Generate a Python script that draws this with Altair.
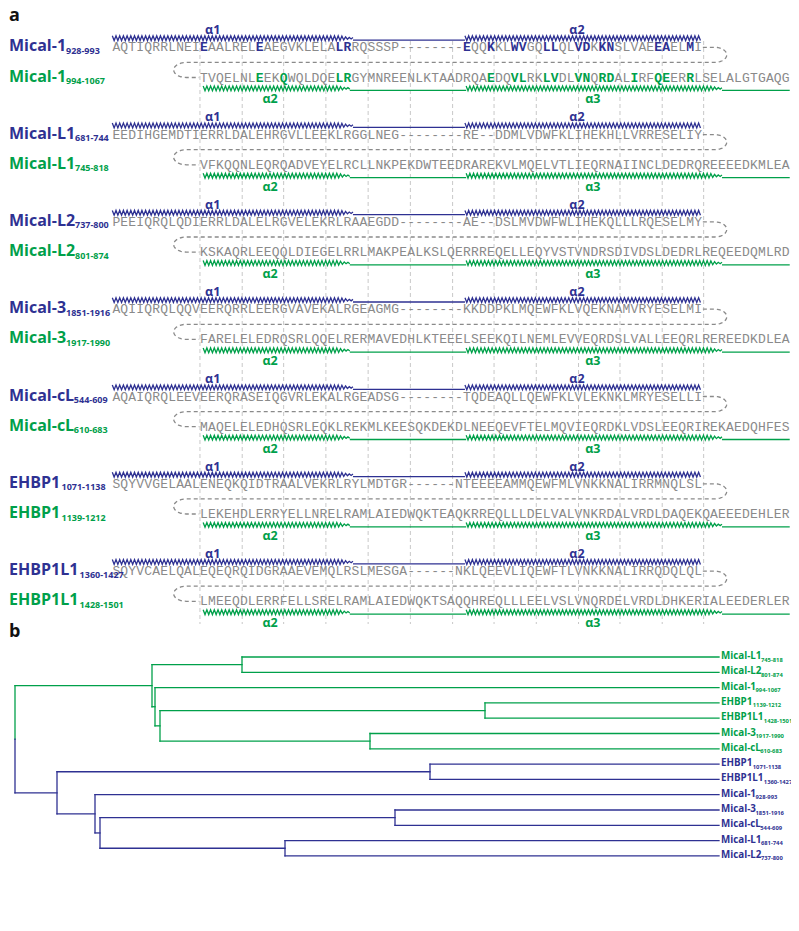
import altair as alt
import pandas as pd
import numpy as np

BLUE = "#2E3192"
GREEN = "#00A04A"
SEQ_GRAY = "#8a8a8a"
LOOP_GRAY = "#8a8a8a"
GUIDE_GRAY = "#c8c8c8"

# ---------------- data: panel a ----------------
pair_names = ["Mical-1", "Mical-L1", "Mical-L2", "Mical-3", "Mical-cL", "EHBP1", "EHBP1L1"]
top_ranges = ["928-993", "681-744", "737-800", "1851-1916", "544-609", "1071-1138", "1360-1427"]
bottom_ranges = ["994-1067", "745-818", "801-874", "1917-1990", "610-683", "1139-1212", "1428-1501"]
top_seqs = [
    "AQTIQRRLNEIEAALRELEAEGVKLELALRRQSSSP--------EQQKKLWVGQLLQLVDKKNSLVAEEAELMI",
    "EEDIHGEMDTIERRLDALEHRGVLLEEKLRGGLNEG--------RE--DDMLVDWFKLIHEKHLLVRRESELIY",
    "PEEIQRQLQDIERRLDALELRGVELEKRLRAAEGDD--------AE--DSLMVDWFWLIHEKQLLLRQESELMY",
    "AQIIQRQLQQVEERQRRLEERGVAVEKALRGEAGMG--------KKDDPKLMQEWFKLVQEKNAMVRYESELMI",
    "AQAIQRQLEEVEERQRASEIQGVRLEKALRGEADSG--------TQDEAQLLQEWFKLVLEKNKLMRYESELLI",
    "SQYVVGELAALENEQKQIDTRAALVEKRLRYLMDTGR------NTEEEEAMMQEWFMLVNKKNALIRRMNQLSL",
    "SQYVCAELQALEQEQRQIDGRAAEVEMQLRSLMESGA------NKLQEEVLIQEWFTLVNKKNALIRRQDQLQL",
]
bottom_seqs = [
    "TVQELNLEEKQWQLDQELRGYMNREENLKTAADRQAEDQVLRKLVDLVNQRDALIRFQEERRLSELALGTGAQG",
    "VFKQQNLEQRQADVEYELRCLLNKPEKDWTEEDRAREKVLMQELVTLIEQRNAIINCLDEDRQREEEEDKMLEA",
    "KSKAQRLEEQQLDIEGELRRLMAKPEALKSLQERRREQELLEQYVSTVNDRSDIVDSLDEDRLREQEEDQMLRD",
    "FARELELEDRQSRLQQELRERMAVEDHLKTEEELSEEKQILNEMLEVVEQRDSLVALLEEQRLREREEDKDLEA",
    "MAQELELEDHQSRLEQKLREKMLKEESQKDEKDLNEEQEVFTELMQVIEQRDKLVDSLEEQRIREKAEDQHFES",
    "LEKEHDLERRYELLNRELRAMLAIEDWQKTEAQKRREQLLLDELVALVNKRDALVRDLDAQEKQAEEEDEHLER",
    "LMEEQDLERRFELLSRELRAMLAIEDWQKTSAQQHREQLLLEELVSLVNQRDELVRDLDHKERIALEEDERLER",
]
BOTTOM_OFFSET = 11
# highlighted (bold) residue columns, Mical-1 pair only
top_bold = [[11, 18, 28, 29, 44, 47, 50, 51, 54, 55, 58, 59, 61, 62, 68, 69, 72], [], [], [], [], [], []]
bottom_bold = [[18, 21, 28, 29, 47, 50, 51, 54, 55, 58, 59, 61, 62, 65, 68, 69, 72], [], [], [], [], [], []]

guide_cols = [11.0, 16.3, 21.5, 26.8, 32.1, 37.4, 42.7, 47.9, 53.2, 58.5, 63.7, 69.0, 74.2]

top_segments = [("helix", 0.0, 30.2, True), ("coil", 30.2, 44.25, False), ("helix", 44.25, 73.8, False)]
top_labels = [("α1", 12.6), ("α2", 58.3)]
bottom_segments = [("helix", 11.4, 29.8, True), ("coil", 29.8, 44.4, False),
                   ("helix", 44.4, 76.5, True), ("coil", 76.5, 85.0, False)]
bottom_labels = [("α2", 19.8), ("α3", 60.3)]

# ---------------- data: panel b ----------------
leaf_names = ["Mical-L1", "Mical-L2", "Mical-1", "EHBP1", "EHBP1L1", "Mical-3", "Mical-cL",
              "EHBP1", "EHBP1L1", "Mical-1", "Mical-3", "Mical-cL", "Mical-L1", "Mical-L2"]
leaf_ranges = ["745-818", "801-874", "994-1067", "1139-1212", "1428-1501", "1917-1990", "610-683",
               "1071-1138", "1360-1427", "928-993", "1851-1916", "544-609", "681-744", "737-800"]
leaf_is_green = [True] * 7 + [False] * 7
LEAF_DEPTH = 7.04
# internal nodes: name, depth, children (leaf index or node name)
tree_nodes = [
    ("A", 2.27, [0, 1]),
    ("D", 4.70, [3, 4]),
    ("E", 3.55, [5, 6]),
    ("C", 1.45, ["D", "E"]),
    ("B", 1.40, [2, "C"]),
    ("G", 1.37, ["A", "B"]),
    ("F", 4.15, [7, 8]),
    ("J", 3.80, [10, 11]),
    ("K", 2.70, [12, 13]),
    ("I", 0.85, ["J", "K"]),
    ("H", 0.80, [9, "I"]),
    ("BL", 0.42, ["F", "H"]),
    ("R", 0.0, ["G", "BL"]),
]
green_nodes = {"A", "B", "C", "D", "E", "G"}

# ---------------- layout ----------------
W, H = 783, 915
COLS = alt.Scale(domain=[-13.087, 85.16], nice=False, zero=False)
PX = alt.Scale(domain=[8, 791], nice=False, zero=False)
YS = alt.Scale(domain=[8, 923], reverse=True, nice=False, zero=False)
DS = alt.Scale(domain=[-0.07, 7.76], nice=False, zero=False)

BLOCK_Y0 = 30
BLOCK_STEP = 87.3
R_HTOP = 8.2
R_STOP = 17.3
R_LOOP = 32.4
R_SBOT = 47.5
R_HBOT = 58.4
R_LBOT = 69.4

OPEN_BOLD = {'M': 0.91, 'i': 0.29, 'c': 0.50, 'a': 0.59, 'l': 0.29, '-': 0.32, '1': 0.57, '2': 0.57,
             '3': 0.57, 'L': 0.56, 'E': 0.57, 'H': 0.75, 'B': 0.67, 'P': 0.63}


def text_w(s, size):
    return sum(OPEN_BOLD.get(ch, 0.6) for ch in s) * size


# characters
rows = []
for b, (ts, bs) in enumerate(zip(top_seqs, bottom_seqs)):
    y0 = BLOCK_Y0 + BLOCK_STEP * b
    for i, ch in enumerate(ts):
        bold = i in top_bold[b]
        rows.append(dict(c=i + 0.5, y=y0 + R_STOP, ch=ch, bold=bold, color=BLUE if bold else SEQ_GRAY))
    for i, ch in enumerate(bs):
        col = BOTTOM_OFFSET + i
        bold = col in bottom_bold[b]
        rows.append(dict(c=col + 0.5, y=y0 + R_SBOT, ch=ch, bold=bold, color=GREEN if bold else SEQ_GRAY))
chars = pd.DataFrame(rows)

# helices
PERIOD = 0.464
AMP = 2.4
hrows = []
seg_id = 0


def add_segments(segs, yc, color):
    global seg_id
    for kind, c0, c1, taper in segs:
        seg_id += 1
        if kind == "helix":
            n = int(round((c1 - c0) / (PERIOD / 2)))
            for k in range(n + 1):
                c = c0 + k * (c1 - c0) / n
                a = AMP
                if taper and c > c1 - 1.6:
                    a = AMP * max(0.3, (c1 - c) / 1.6)
                s = -1 if k % 2 == 0 else 1
                hrows.append(dict(c=c, y=yc + s * a, seg=seg_id, k=k, color=color))
        else:
            for k, c in enumerate([c0, c1]):
                hrows.append(dict(c=c, y=yc + AMP * 0.8, seg=seg_id, k=k, color=color))


for b in range(len(top_seqs)):
    y0 = BLOCK_Y0 + BLOCK_STEP * b
    add_segments(top_segments, y0 + R_HTOP, BLUE)
    add_segments(bottom_segments, y0 + R_HBOT, GREEN)
helix = pd.DataFrame(hrows)

labrows = []
for b in range(len(top_seqs)):
    y0 = BLOCK_Y0 + BLOCK_STEP * b
    for t, c in top_labels:
        labrows.append(dict(c=c, y=y0, t=t, color=BLUE))
    for t, c in bottom_labels:
        labrows.append(dict(c=c, y=y0 + R_LBOT, t=t, color=GREEN))
hlabels = pd.DataFrame(labrows)

# loops
lrows = []
for b in range(len(top_seqs)):
    y0 = BLOCK_Y0 + BLOCK_STEP * b
    yt, yl, yb = y0 + R_STOP, y0 + R_LOOP, y0 + R_SBOT
    pts = [(len(top_seqs[b]) + 0.1, yt), (75.6, yt)]
    ry = (yl - yt) / 2
    for a in np.linspace(-np.pi / 2, np.pi / 2, 15)[1:-1]:
        pts.append((75.6 + 1.5 * np.cos(a), yt + ry + ry * np.sin(a)))
    pts += [(75.6, yl), (9.3, yl)]
    ry2 = (yb - yl) / 2
    for a in np.linspace(-np.pi / 2, np.pi / 2, 15)[1:-1]:
        pts.append((9.3 - 1.6 * np.cos(a), yl + ry2 + ry2 * np.sin(a)))
    pts += [(9.3, yb), (BOTTOM_OFFSET - 0.1, yb)]
    for k, (c, y) in enumerate(pts):
        lrows.append(dict(c=c, y=y, k=k, block=b))
loops = pd.DataFrame(lrows)

guides = pd.DataFrame(dict(c=guide_cols, y1=[41] * len(guide_cols), y2=[624] * len(guide_cols)))

# names
NAME_X = 9
nrows, srows = [], []
for b, nm in enumerate(pair_names):
    y0 = BLOCK_Y0 + BLOCK_STEP * b
    for yy, rng, colr in [(y0 + R_STOP, top_ranges[b], BLUE), (y0 + R_SBOT, bottom_ranges[b], GREEN)]:
        nrows.append(dict(x=NAME_X, y=yy - 1, t=nm, color=colr))
        srows.append(dict(x=NAME_X + text_w(nm, 16) + 1.5, y=yy + 3.5, t=rng, color=colr))
names = pd.DataFrame(nrows)
subs = pd.DataFrame(srows)

LEAF_Y0 = 657
LEAF_STEP = 15.3
panel_labels = pd.DataFrame(dict(x=[9, 9], y=[16, 632], t=["a", "b"]))

# dendrogram
pos = {i: (LEAF_DEPTH, LEAF_Y0 + LEAF_STEP * i) for i in range(len(leaf_names))}
drows = []
for nm, d, ch in tree_nodes:
    ys = [pos[c][1] for c in ch]
    ny = (ys[0] + ys[-1]) / 2
    pos[nm] = (d, ny)
    if nm == "R":
        drows.append(dict(x1=d, x2=d, y1=ys[0], y2=ny, color=GREEN))
        drows.append(dict(x1=d, x2=d, y1=ny, y2=ys[-1], color=BLUE))
    else:
        col = GREEN if nm in green_nodes else BLUE
        drows.append(dict(x1=d, x2=d, y1=ys[0], y2=ys[-1], color=col))
    for c in ch:
        cd, cy = pos[c]
        if isinstance(c, int):
            col = GREEN if leaf_is_green[c] else BLUE
        else:
            col = GREEN if c in green_nodes else BLUE
        drows.append(dict(x1=d, x2=cd, y1=cy, y2=cy, color=col))
dendro = pd.DataFrame(drows)

LEAF_LABEL_X = 721
lnrows, lsrows = [], []
for i, (nm, rg) in enumerate(zip(leaf_names, leaf_ranges)):
    colr = GREEN if leaf_is_green[i] else BLUE
    y = LEAF_Y0 + LEAF_STEP * i
    lnrows.append(dict(x=LEAF_LABEL_X, y=y - 1, t=nm, color=colr))
    lsrows.append(dict(x=LEAF_LABEL_X + text_w(nm, 9.8) + 0.5, y=y + 2.5, t=rg, color=colr))
leaf_lab = pd.DataFrame(lnrows)
leaf_sub = pd.DataFrame(lsrows)

# ---------------- chart ----------------
def X(field, scale):
    return alt.X(field, scale=scale, axis=None)


def Yf(field):
    return alt.Y(field, scale=YS, axis=None)


NOCOL = alt.Color("color:N", scale=None)

l_guides = alt.Chart(guides).mark_rule(strokeDash=[4, 3], color=GUIDE_GRAY, strokeWidth=1).encode(
    x=X("c:Q", COLS), y=Yf("y1:Q"), y2="y2:Q")
l_helix = alt.Chart(helix).mark_line(strokeWidth=1.3).encode(
    x=X("c:Q", COLS), y=Yf("y:Q"), detail="seg:N", order="k:Q", color=NOCOL)
l_loop = alt.Chart(loops).mark_line(strokeDash=[4, 3], strokeWidth=1.3, color=LOOP_GRAY).encode(
    x=X("c:Q", COLS), y=Yf("y:Q"), detail="block:N", order="k:Q")
l_chars = alt.Chart(chars[~chars.bold]).mark_text(
    font="Liberation Mono", fontSize=13, baseline="middle", align="center").encode(
    x=X("c:Q", COLS), y=Yf("y:Q"), text="ch:N", color=NOCOL)
l_bold = alt.Chart(chars[chars.bold]).mark_text(
    font="Liberation Mono", fontSize=13, fontWeight="bold", baseline="middle", align="center").encode(
    x=X("c:Q", COLS), y=Yf("y:Q"), text="ch:N", color=NOCOL)
l_hlab = alt.Chart(hlabels).mark_text(
    font="Open Sans", fontSize=12.5, fontWeight="bold", baseline="middle", align="center").encode(
    x=X("c:Q", COLS), y=Yf("y:Q"), text="t:N", color=NOCOL)
l_names = alt.Chart(names).mark_text(
    font="Open Sans", fontSize=16, fontWeight="bold", baseline="middle", align="left").encode(
    x=X("x:Q", PX), y=Yf("y:Q"), text="t:N", color=NOCOL)
l_subs = alt.Chart(subs).mark_text(
    font="Open Sans", fontSize=9, fontWeight="bold", baseline="middle", align="left").encode(
    x=X("x:Q", PX), y=Yf("y:Q"), text="t:N", color=NOCOL)
l_panel = alt.Chart(panel_labels).mark_text(
    font="Open Sans", fontSize=18, fontWeight="bold", baseline="middle", align="left", color="#111111").encode(
    x=X("x:Q", PX), y=Yf("y:Q"), text="t:N")
l_dendro = alt.Chart(dendro).mark_rule(strokeWidth=1.3, strokeCap="square").encode(
    x=X("x1:Q", DS), x2="x2:Q", y=Yf("y1:Q"), y2="y2:Q", color=NOCOL)
l_leaf = alt.Chart(leaf_lab).mark_text(
    font="Open Sans", fontSize=9.8, fontWeight="bold", baseline="middle", align="left").encode(
    x=X("x:Q", PX), y=Yf("y:Q"), text="t:N", color=NOCOL)
l_leafsub = alt.Chart(leaf_sub).mark_text(
    font="Open Sans", fontSize=5.8, fontWeight="bold", baseline="middle", align="left").encode(
    x=X("x:Q", PX), y=Yf("y:Q"), text="t:N", color=NOCOL)

chart = alt.layer(
    l_guides, l_helix, l_loop, l_chars, l_bold, l_hlab, l_names, l_subs, l_panel,
    l_dendro, l_leaf, l_leafsub
).resolve_scale(x="independent").properties(
    width=W, height=H, padding=0, autosize=alt.AutoSizeParams(type="none")
).configure_view(strokeWidth=0)

chart.save("out.html", embed_options={"renderer": "svg", "actions": False})
